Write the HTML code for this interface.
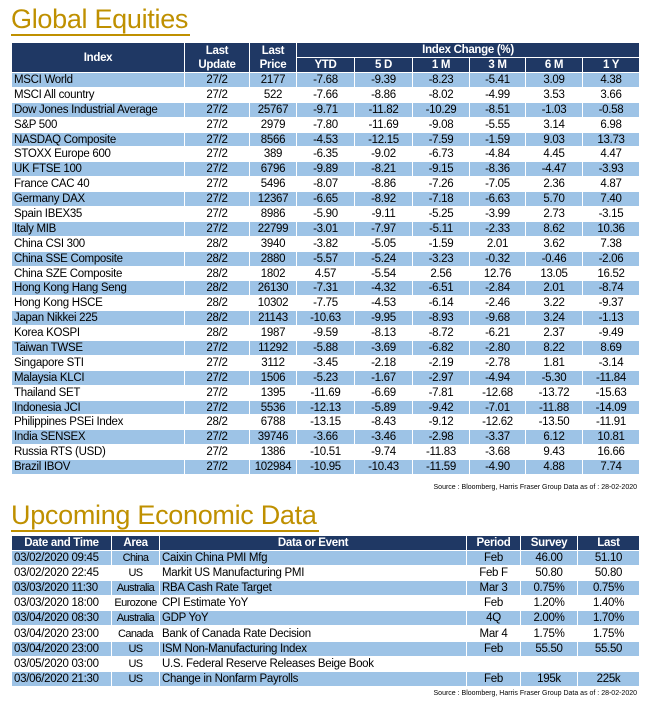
<!DOCTYPE html>
<html><head><meta charset="utf-8"><style>
body{margin:0;width:659px;height:703px;background:#fff;font-family:"Liberation Sans",sans-serif;position:relative;overflow:hidden}
.title{position:absolute;left:11px;color:#bf9000;font-size:27px;line-height:30px;border-bottom:2px solid #bf9000;padding-right:2px;letter-spacing:-0.3px}
table{position:absolute;left:11px;border-collapse:collapse;table-layout:fixed;font-size:11.5px;letter-spacing:-0.3px}
td,th{border:1px solid #fff;padding:0 2px;white-space:nowrap;overflow:hidden;text-align:center;color:#000;font-weight:normal}
th{background:#1f3864;color:#fff;font-weight:bold}
tr.b td{background:#9dc3e6}
tr.w td{background:#fff}
td.l{text-align:left}
td.a{padding:0 1px;letter-spacing:-0.6px;font-size:11px}
.src{position:absolute;right:22px;font-size:7px;color:#000}
</style></head><body>
<div class="title" style="top:4px">Global Equities</div>
<table id="eq" style="top:42px;width:628px">
<colgroup><col style="width:173px"><col style="width:65px"><col style="width:47px"><col style="width:58px"><col style="width:58px"><col style="width:57px"><col style="width:56px"><col style="width:57px"><col style="width:57px"></colgroup>
<tr style="height:15px"><th rowspan="2">Index</th><th rowspan="2" style="line-height:14px">Last<br>Update</th><th rowspan="2" style="line-height:14px">Last<br>Price</th><th colspan="6">Index Change (%)</th></tr>
<tr style="height:15px"><th>YTD</th><th>5 D</th><th>1 M</th><th>3 M</th><th>6 M</th><th>1 Y</th></tr>
<tbody id="eqb"></tbody>
</table>
<div class="src" style="top:484px">Source : Bloomberg, Harris Fraser Group Data as of : 28-02-2020</div>
<div class="title" style="top:500px">Upcoming Economic Data</div>
<table style="top:535px;width:628px">
<colgroup><col style="width:100px"><col style="width:48px"><col style="width:307px"><col style="width:54px"><col style="width:57px"><col style="width:62px"></colgroup>
<tr style="height:15px"><th>Date and Time</th><th>Area</th><th>Data or Event</th><th>Period</th><th>Survey</th><th>Last</th></tr>
<tbody id="ecb"></tbody>
</table>
<div class="src" style="top:690px">Source : Bloomberg, Harris Fraser Group Data as of : 28-02-2020</div>
<script>
const eqRows=[
["MSCI World","27/2","2177","-7.68","-9.39","-8.23","-5.41","3.09","4.38"],
["MSCI All country","27/2","522","-7.66","-8.86","-8.02","-4.99","3.53","3.66"],
["Dow Jones Industrial Average","27/2","25767","-9.71","-11.82","-10.29","-8.51","-1.03","-0.58"],
["S&P 500","27/2","2979","-7.80","-11.69","-9.08","-5.55","3.14","6.98"],
["NASDAQ Composite","27/2","8566","-4.53","-12.15","-7.59","-1.59","9.03","13.73"],
["STOXX Europe 600","27/2","389","-6.35","-9.02","-6.73","-4.84","4.45","4.47"],
["UK FTSE 100","27/2","6796","-9.89","-8.21","-9.15","-8.36","-4.47","-3.93"],
["France CAC 40","27/2","5496","-8.07","-8.86","-7.26","-7.05","2.36","4.87"],
["Germany DAX","27/2","12367","-6.65","-8.92","-7.18","-6.63","5.70","7.40"],
["Spain IBEX35","27/2","8986","-5.90","-9.11","-5.25","-3.99","2.73","-3.15"],
["Italy MIB","27/2","22799","-3.01","-7.97","-5.11","-2.33","8.62","10.36"],
["China CSI 300","28/2","3940","-3.82","-5.05","-1.59","2.01","3.62","7.38"],
["China SSE Composite","28/2","2880","-5.57","-5.24","-3.23","-0.32","-0.46","-2.06"],
["China SZE Composite","28/2","1802","4.57","-5.54","2.56","12.76","13.05","16.52"],
["Hong Kong Hang Seng","28/2","26130","-7.31","-4.32","-6.51","-2.84","2.01","-8.74"],
["Hong Kong HSCE","28/2","10302","-7.75","-4.53","-6.14","-2.46","3.22","-9.37"],
["Japan Nikkei 225","28/2","21143","-10.63","-9.95","-8.93","-9.68","3.24","-1.13"],
["Korea KOSPI","28/2","1987","-9.59","-8.13","-8.72","-6.21","2.37","-9.49"],
["Taiwan TWSE","27/2","11292","-5.88","-3.69","-6.82","-2.80","8.22","8.69"],
["Singapore STI","27/2","3112","-3.45","-2.18","-2.19","-2.78","1.81","-3.14"],
["Malaysia KLCI","27/2","1506","-5.23","-1.67","-2.97","-4.94","-5.30","-11.84"],
["Thailand SET","27/2","1395","-11.69","-6.69","-7.81","-12.68","-13.72","-15.63"],
["Indonesia JCI","27/2","5536","-12.13","-5.89","-9.42","-7.01","-11.88","-14.09"],
["Philippines PSEi Index","28/2","6788","-13.15","-8.43","-9.12","-12.62","-13.50","-11.91"],
["India SENSEX","27/2","39746","-3.66","-3.46","-2.98","-3.37","6.12","10.81"],
["Russia RTS (USD)","27/2","1386","-10.51","-9.74","-11.83","-3.68","9.43","16.66"],
["Brazil IBOV","27/2","102984","-10.95","-10.43","-11.59","-4.90","4.88","7.74"]];
const ecRows=[
["03/02/2020 09:45","China","Caixin China PMI Mfg","Feb","46.00","51.10"],
["03/02/2020 22:45","US","Markit US Manufacturing PMI","Feb F","50.80","50.80"],
["03/03/2020 11:30","Australia","RBA Cash Rate Target","Mar 3","0.75%","0.75%"],
["03/03/2020 18:00","Eurozone","CPI Estimate YoY","Feb","1.20%","1.40%"],
["03/04/2020 08:30","Australia","GDP YoY","4Q","2.00%","1.70%"],
["03/04/2020 23:00","Canada","Bank of Canada Rate Decision","Mar 4","1.75%","1.75%"],
["03/04/2020 23:00","US","ISM Non-Manufacturing Index","Feb","55.50","55.50"],
["03/05/2020 03:00","US","U.S. Federal Reserve Releases Beige Book","","",""],
["03/06/2020 21:30","US","Change in Nonfarm Payrolls","Feb","195k","225k"]];
function fill(id,rows,h,leftCols,namePrefix,areaCol){
  const tb=document.getElementById(id);
  rows.forEach((r,i)=>{
    const tr=document.createElement('tr');
    tr.className=i%2===0?'b':'w';
    tr.style.height=h+'px';
    
    
    r.forEach((v,j)=>{
      const td=document.createElement('td');
      td.textContent=v;
      if(leftCols.includes(j))td.className='l';
      if(j===areaCol)td.className='a';
      
      
      tr.appendChild(td);
    });
    tb.appendChild(tr);
  });
}
fill('eqb',eqRows,14.9,[0],'equity',-1);
fill('ecb',ecRows,15.1,[0,2],'economic',1);
</script>
</body></html>
